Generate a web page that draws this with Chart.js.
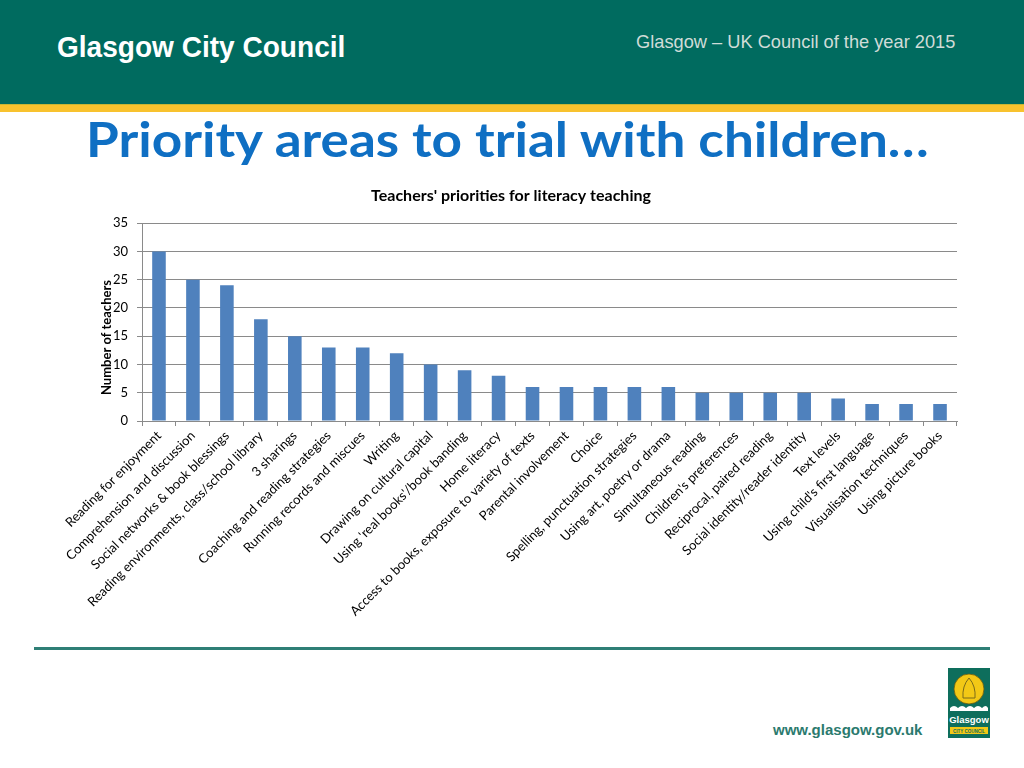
<!DOCTYPE html>
<html>
<head>
<meta charset="utf-8">
<script src="https://cdn.jsdelivr.net/npm/chart.js@4.4.1/dist/chart.umd.min.js"></script>
<style>
body{margin:0;width:1024px;height:768px;overflow:hidden;background:#fff;position:relative;font-family:Lato,sans-serif;}
#header{position:absolute;left:0;top:0;width:1024px;height:104px;background:#006b5f;}
#stripe{position:absolute;left:0;top:104px;width:1024px;height:7px;background:#f8c22e;border-top:1px solid #c9b533;}
#council{position:absolute;left:57px;top:30px;font-family:"Liberation Sans",Arial,sans-serif;font-weight:bold;font-size:30px;color:#fff;transform:scaleX(0.935);transform-origin:left top;white-space:nowrap;}
#award{position:absolute;left:636px;top:31px;font-family:"Liberation Sans",Arial,sans-serif;font-size:19px;color:#d0dcd8;transform:scaleX(0.96);transform-origin:left top;white-space:nowrap;}
#title{position:absolute;left:86px;top:110px;font-family:Lato,sans-serif;font-weight:bold;font-size:48px;color:#0f6fc3;white-space:nowrap;transform:scaleX(1.105);transform-origin:left top;}
#chart{position:absolute;left:0;top:180px;}
#rule{position:absolute;left:34px;top:647px;width:956px;height:3px;background:#2f7f76;}
#url{position:absolute;left:773px;top:721px;font-family:"Liberation Sans",Arial,sans-serif;font-weight:bold;font-size:15px;color:#2b7a6e;}
#logo{position:absolute;left:948px;top:668px;}
</style>
</head>
<body>
<div id="header"></div>
<div id="stripe"></div>
<div id="council">Glasgow City Council</div>
<div id="award">Glasgow – UK Council of the year 2015</div>
<div id="title">Priority areas to trial with children…</div>
<canvas id="chart" width="1024" height="450"></canvas>
<div id="rule"></div>
<div id="url">www.glasgow.gov.uk</div>
<svg id="logo" width="42" height="70" viewBox="0 0 42 70">
<rect x="0" y="0" width="42" height="70" fill="#0e6e5c"/>
<circle cx="21" cy="21" r="15" fill="#f3c816" stroke="#6a5a10" stroke-width="0.8"/>
<path d="M15 30 Q14 18 21 10 Q28 18 27 30 Z" fill="none" stroke="#7a6a1a" stroke-width="1"/>
<path d="M2 40 q4 -4 8 0 q4 -4 8 0 q4 -4 8 0 q4 -4 8 0 q4 -4 6 0 v3 H2 Z" fill="#fff"/>
<text x="21" y="55" text-anchor="middle" font-family="Liberation Sans,sans-serif" font-weight="bold" font-size="9.5" fill="#fff">Glasgow</text>
<rect x="2" y="59" width="38" height="7" fill="#f3c816"/>
<text x="21" y="65" text-anchor="middle" font-family="Liberation Sans,sans-serif" font-weight="bold" font-size="4.5" fill="#0e6e5c">CITY COUNCIL</text>
</svg>
<script>

/* DATA */
let categories = [
"Reading for enjoyment",
"Comprehension and discussion",
"Social networks & book blessings",
"Reading environments, class/school library",
"3 sharings",
"Coaching and reading strategies",
"Running records and miscues",
"Writing",
"Drawing on cultural capital",
"Using 'real books'/book banding",
"Home literacy",
"Access to books, exposure to variety of texts",
"Parental involvement",
"Choice",
"Spelling, punctuation strategies",
"Using art, poetry or drama",
"Simultaneous reading",
"Children's preferences",
"Reciprocal, paired reading",
"Social identity/reader identity",
"Text levels",
"Using child's first language",
"Visualisation techniques",
"Using picture books"
];

let teacherCounts = [30,25,24,18,15,13,13,12,10,9,8,6,6,6,6,6,5,5,5,5,4,3,3,3];

let yMin = 0;
let yMax = 35;
let yStep = 5;

/* CHART */
let gridColor = "#8a8a8a";
let ctx = document.getElementById("chart").getContext("2d");

let chart = new Chart(ctx,{
type:"bar",
data:{
labels:categories,
datasets:[{
label:"Number of teachers",
data:teacherCounts,
backgroundColor:"#4f81bd",
barPercentage:0.4,
categoryPercentage:1
}]
},
options:{
responsive:false,
animation:false,
layout:{padding:{left:65,right:67,top:0,bottom:0}},
plugins:{
legend:{display:false},
tooltip:{enabled:false},
title:{
display:true,
text:"Teachers' priorities for literacy teaching",
color:"#000",
font:{family:"Lato",size:16,weight:"bold"},
padding:{top:6,bottom:18}
}
},
scales:{
x:{
grid:{offset:true,drawOnChartArea:false,tickLength:5,color:gridColor},
border:{color:gridColor},
ticks:{color:"#000",font:{family:"Lato",size:13},minRotation:45,maxRotation:45,autoSkip:false,padding:2},
afterFit:function(scale){ scale.height = 209; }
},
y:{
min:yMin,
max:yMax,
ticks:{stepSize:yStep,color:"#000",font:{family:"Lato",size:13},padding:9},
grid:{tickLength:5,color:gridColor},
border:{color:gridColor},
title:{
display:true,
// trailing spaces push the visible words a bit below the axis centre, as in the original
text:"Number of teachers\u2003\u2003\u2003\u2009",
color:"#000",
font:{family:"Lato",size:13,weight:"bold"},
padding:{top:34,bottom:0}
},
afterFit:function(scale){ scale.width = 77; }
}
}
}
});

</script>
</body>
</html>
